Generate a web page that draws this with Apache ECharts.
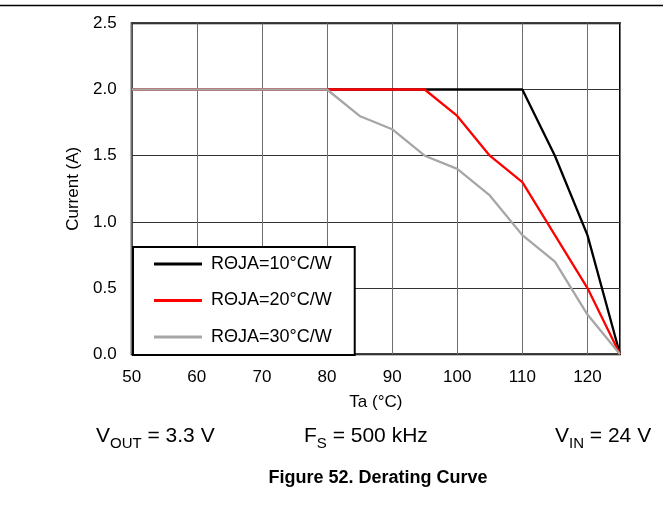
<!DOCTYPE html>
<html>
<head>
<meta charset="utf-8">
<script src="https://cdn.jsdelivr.net/npm/echarts@6/dist/echarts.min.js"></script>
<style>
html,body{margin:0;padding:0;background:#fff;}
#c{width:663px;height:508px;}
</style>
</head>
<body>
<div id="c"></div>
<script>
// Data
const ta = [50, 55, 60, 65, 70, 75, 80, 85, 90, 95, 100, 105, 110, 115, 120, 125];
const r10 = [2.0, 2.0, 2.0, 2.0, 2.0, 2.0, 2.0, 2.0, 2.0, 2.0, 2.0, 2.0, 2.0, 1.5, 0.9, 0.0];
const r20 = [2.0, 2.0, 2.0, 2.0, 2.0, 2.0, 2.0, 2.0, 2.0, 2.0, 1.8, 1.5, 1.3, 0.9, 0.5, 0.0];
const r30 = [2.0, 2.0, 2.0, 2.0, 2.0, 2.0, 2.0, 1.8, 1.7, 1.5, 1.4, 1.2, 0.9, 0.7, 0.3, 0.0];
const seriesNames = ['RΘJA=10°C/W', 'RΘJA=20°C/W', 'RΘJA=30°C/W'];
const seriesColors = ['#000000', '#ff0000', '#a6a6a6'];
const xName = 'Ta (°C)';
const yName = 'Current (A)';
const figTitle = 'Figure 52. Derating Curve';

const FONT = 'Liberation Sans, Arial, sans-serif';
const pairs = arr => ta.map((x, i) => [x, arr[i]]);
const vals = [r10, r20, r30];

const richSub = {
  a: {fontSize: 21, fontFamily: FONT, fill: '#000', verticalAlign: 'bottom', lineHeight: 24},
  s: {fontSize: 15, fontFamily: FONT, fill: '#000', verticalAlign: 'bottom', lineHeight: 24, padding: [0, 0, -4, 0]}
};

const chart = echarts.init(document.getElementById('c'), null, {renderer: 'canvas'});
chart.setOption({
  animation: false,
  backgroundColor: '#fff',
  grid: {left: 131.7, right: 43, top: 23.3, bottom: 153.7, show: true, borderColor: '#000', borderWidth: 2, backgroundColor: 'transparent'},
  xAxis: {
    type: 'value', min: 50, max: 125, interval: 10,
    name: xName, nameLocation: 'middle', nameGap: 40,
    nameTextStyle: {fontSize: 17, fontFamily: FONT, color: '#000'},
    axisLine: {show: false}, axisTick: {show: false},
    axisLabel: {fontSize: 17, fontFamily: FONT, color: '#000', margin: 15, showMaxLabel: false},
    splitLine: {show: true, lineStyle: {color: '#6e6e6e', width: 1}}
  },
  yAxis: {
    type: 'value', min: 0, max: 2.5, interval: 0.5,
    name: yName, nameLocation: 'middle', nameGap: 49,
    nameTextStyle: {fontSize: 17, fontFamily: FONT, color: '#000'},
    axisLine: {show: false}, axisTick: {show: false},
    axisLabel: {fontSize: 17, fontFamily: FONT, color: '#000', margin: 15, formatter: v => v.toFixed(1)},
    splitLine: {show: true, lineStyle: {color: '#333', width: 1}}
  },
  legend: {
    orient: 'vertical', left: 133, top: 247,
    padding: [8, 23, 9, 21],
    itemGap: 18.5,
    itemWidth: 48, itemHeight: 3, icon: 'rect',
    backgroundColor: '#fff', borderColor: '#000', borderWidth: 2, borderRadius: 0,
    textStyle: {fontSize: 18, fontFamily: FONT, color: '#000', lineHeight: 18, padding: [0, 0, 0, 4]},
    data: seriesNames
  },
  series: seriesNames.map((n, i) => ({
    name: n, type: 'line', data: pairs(vals[i]), symbol: 'none',
    lineStyle: {color: seriesColors[i], width: 2.3},
    itemStyle: {color: seriesColors[i]}
  })),
  graphic: [
    {type: 'line', shape: {x1: 0, y1: 5.5, x2: 663, y2: 5.5}, style: {stroke: '#000', lineWidth: 1.5}},
    {type: 'text', left: 96, top: 426, style: {text: '{a|V}{s|OUT}{a| = 3.3 V}', rich: richSub}},
    {type: 'text', left: 304, top: 426, style: {text: '{a|F}{s|S}{a| = 500 kHz}', rich: richSub}},
    {type: 'text', left: 555, top: 426, style: {text: '{a|V}{s|IN}{a| = 24 V}', rich: richSub}},
    {type: 'text', x: 378, y: 478, style: {
      text: figTitle, fontSize: 18, fontWeight: 'bold', fontFamily: FONT, fill: '#000', align: 'center', verticalAlign: 'middle'
    }}
  ]
});
</script>
</body>
</html>
